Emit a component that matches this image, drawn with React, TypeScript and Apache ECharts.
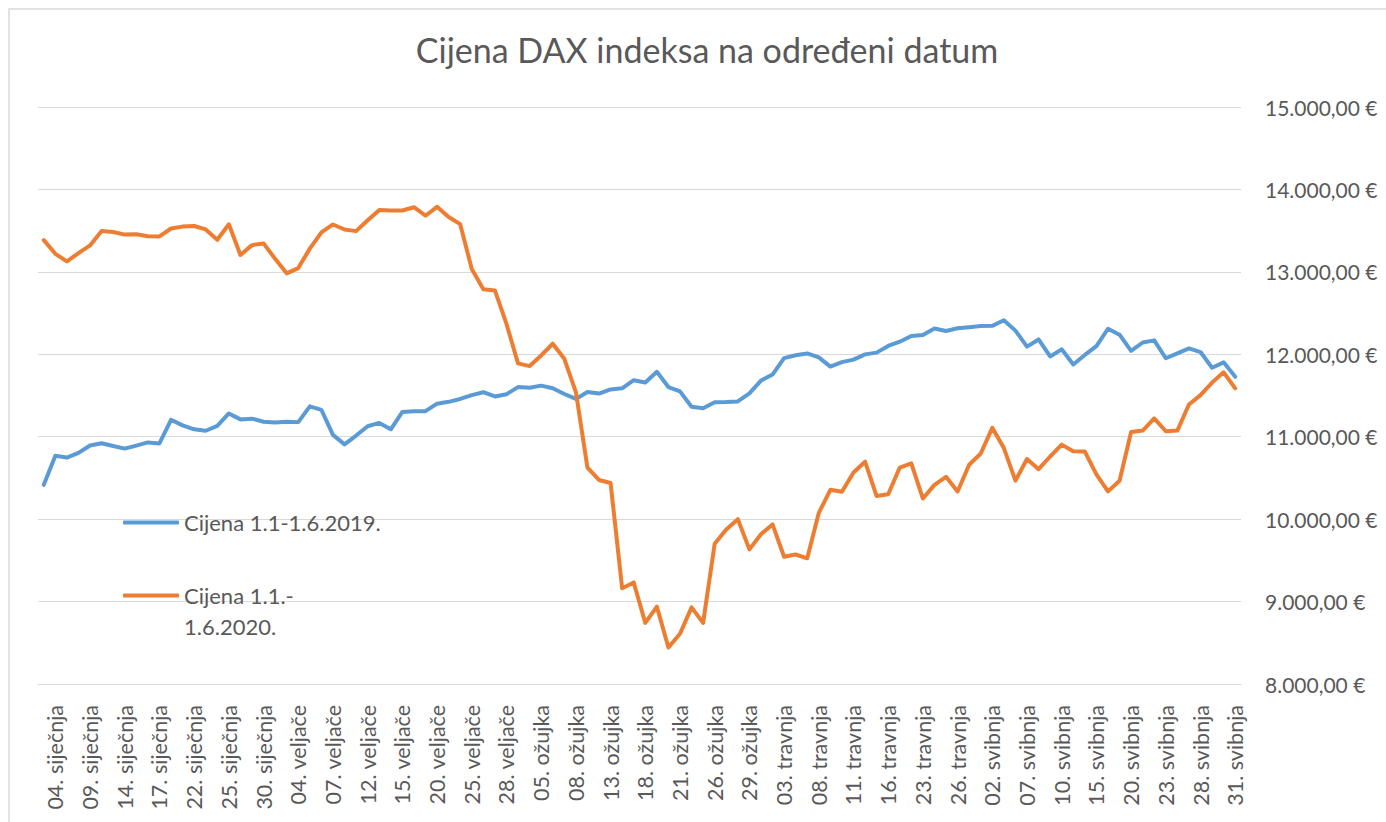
import React, { useEffect, useRef } from "react";
import * as echarts from "echarts";

const CHART_TITLE = "Cijena DAX indeksa na određeni datum";
const SERIES_2019 = "Cijena 1.1-1.6.2019.";
const SERIES_2020 = "Cijena 1.1.-1.6.2020.";

// trading days (2019) used as categories
const categories: string[] = [
  "03. siječnja", "04. siječnja", "07. siječnja", "08. siječnja", "09. siječnja", "10. siječnja", "11. siječnja",
  "14. siječnja", "15. siječnja", "16. siječnja", "17. siječnja", "18. siječnja", "21. siječnja", "22. siječnja",
  "23. siječnja", "24. siječnja", "25. siječnja", "28. siječnja", "29. siječnja", "30. siječnja", "31. siječnja",
  "01. veljače", "04. veljače", "05. veljače", "06. veljače", "07. veljače", "08. veljače", "11. veljače",
  "12. veljače", "13. veljače", "14. veljače", "15. veljače", "18. veljače", "19. veljače", "20. veljače",
  "21. veljače", "22. veljače", "25. veljače", "26. veljače", "27. veljače", "28. veljače",
  "01. ožujka", "04. ožujka", "05. ožujka", "06. ožujka", "07. ožujka", "08. ožujka", "11. ožujka",
  "12. ožujka", "13. ožujka", "14. ožujka", "15. ožujka", "18. ožujka", "19. ožujka", "20. ožujka",
  "21. ožujka", "22. ožujka", "25. ožujka", "26. ožujka", "27. ožujka", "28. ožujka", "29. ožujka",
  "01. travnja", "02. travnja", "03. travnja", "04. travnja", "05. travnja", "08. travnja", "09. travnja",
  "10. travnja", "11. travnja", "12. travnja", "15. travnja", "16. travnja", "17. travnja", "18. travnja",
  "23. travnja", "24. travnja", "25. travnja", "26. travnja", "29. travnja", "30. travnja",
  "02. svibnja", "03. svibnja", "06. svibnja", "07. svibnja", "08. svibnja", "09. svibnja", "10. svibnja",
  "13. svibnja", "14. svibnja", "15. svibnja", "16. svibnja", "17. svibnja", "20. svibnja", "21. svibnja",
  "22. svibnja", "23. svibnja", "24. svibnja", "27. svibnja", "28. svibnja", "29. svibnja", "30. svibnja",
  "31. svibnja",
];

const prices2019: number[] = [
  10416, 10768, 10747, 10804, 10893, 10921, 10888, 10856, 10892, 10931, 10919, 11205, 11137, 11090,
  11072, 11131, 11282, 11210, 11219, 11182, 11173,
  11181, 11177, 11368, 11325, 11022, 10907, 11014, 11127, 11167, 11090, 11300, 11309, 11310, 11401,
  11423, 11458, 11505, 11540, 11488, 11516,
  11602, 11594, 11620, 11588, 11518, 11458, 11543, 11524, 11573, 11587, 11686, 11657, 11788, 11603,
  11550, 11364, 11346, 11419, 11420, 11428, 11526,
  11681, 11754, 11954, 11988, 12010, 11963, 11851, 11905, 11935, 11999, 12020, 12101, 12153, 12222,
  12235, 12313, 12282, 12315, 12328, 12344,
  12345, 12413, 12287, 12093, 12180, 11974, 12060, 11877, 11992, 12099, 12310, 12238, 12041, 12143,
  12169, 11952, 12011, 12071, 12027, 11837, 11902, 11727,
];

const prices2020: number[] = [
  13385, 13219, 13127, 13227, 13321, 13495, 13483, 13452, 13456, 13432, 13430, 13526, 13549, 13556,
  13515, 13389, 13577, 13205, 13324, 13345, 13158, 12982,
  13046, 13282, 13479, 13575, 13514, 13494, 13627, 13749, 13745, 13744, 13784, 13681, 13789, 13665,
  13579, 13035, 12790, 12775, 12368, 11890,
  11857, 11986, 12128, 11945, 11542, 10625, 10475, 10439, 9162, 9232, 8742, 8939, 8442, 8610,
  8929, 8742, 9701, 9874, 10000, 9633, 9816, 9936,
  9544, 9571, 9525, 10075, 10356, 10333, 10565, 10697, 10280, 10301, 10626, 10676, 10250, 10416,
  10514, 10336, 10660, 10796, 11108, 10862,
  10467, 10730, 10606, 10760, 10904, 10825, 10820, 10542, 10337, 10465, 11058, 11075, 11223, 11066,
  11074, 11391, 11504, 11657, 11781, 11587,
];

const Y_MIN = 8000;
const Y_MAX = 15000;
const Y_STEP = 1000;

const FONT = "Lato, 'Liberation Sans', sans-serif";
const TEXT = "#595959";
const GRID = "#d9d9d9";
const BLUE = "#5B9BD5";
const ORANGE = "#ED7D31";

function euro(v: number): string {
  const s = Math.round(v).toString().replace(/\B(?=(\d{3})+(?!\d))/g, ".");
  return s + ",00 €";
}

export default function App() {
  const ref = useRef<HTMLDivElement>(null);
  useEffect(() => {
    if (!ref.current) return;
    const chart = echarts.init(ref.current, null, { renderer: "svg" });
    chart.setOption({
      animation: false,
      backgroundColor: "#ffffff",
      textStyle: { fontFamily: FONT },
      title: {
        text: CHART_TITLE,
        left: 702,
        textAlign: "center",
        top: 27,
        textStyle: { fontFamily: FONT, fontSize: 34, fontWeight: "normal", color: TEXT },
      },
      graphic: [
        {
          type: "rect",
          shape: { x: 9, y: 9, width: 1420, height: 900 },
          style: { fill: "none", stroke: GRID, lineWidth: 1.5 },
          silent: true,
        },
      ],
      legend: {
        orient: "vertical",
        left: 118,
        top: 502,
        padding: 5,
        itemGap: 11,
        itemWidth: 56,
        itemHeight: 4,
        icon: "roundRect",
        textStyle: { fontFamily: FONT, fontSize: 22, color: TEXT, lineHeight: 31 },
        formatter: (name: string) => (name === SERIES_2020 ? "\nCijena 1.1.-\n1.6.2020." : name),
        data: [{ name: SERIES_2019 }, { name: SERIES_2020 }],
      },
      grid: { left: 38, right: 145, top: 107, bottom: 138, containLabel: false },
      xAxis: {
        type: "category",
        data: categories,
        boundaryGap: true,
        axisLine: { show: true, lineStyle: { color: GRID, width: 1 } },
        axisTick: { show: false },
        axisLabel: {
          rotate: 90,
          interval: (idx: number) => idx % 3 === 1,
          margin: 21,
          fontFamily: FONT,
          fontSize: 21.5,
          color: TEXT,
        },
      },
      yAxis: {
        type: "value",
        position: "right",
        min: Y_MIN,
        max: Y_MAX,
        interval: Y_STEP,
        axisLine: { show: false },
        axisTick: { show: false },
        splitLine: { show: true, lineStyle: { color: GRID, width: 1 } },
        axisLabel: {
          formatter: (v: number) => euro(v),
          margin: 24,
          fontFamily: FONT,
          fontSize: 21,
          color: TEXT,
        },
      },
      series: [
        {
          name: SERIES_2019,
          type: "line",
          data: prices2019,
          showSymbol: false,
          symbol: "none",
          itemStyle: { color: BLUE },
          lineStyle: { color: BLUE, width: 4, cap: "round", join: "round" },
        },
        {
          name: SERIES_2020,
          type: "line",
          data: prices2020,
          showSymbol: false,
          symbol: "none",
          itemStyle: { color: ORANGE },
          lineStyle: { color: ORANGE, width: 4, cap: "round", join: "round" },
        },
      ],
    });
    return () => chart.dispose();
  }, []);
  return (
    <div
      ref={ref}
      style={{ position: "absolute", left: 0, top: 0, width: 1386, height: 822, background: "#fff" }}
    />
  );
}
